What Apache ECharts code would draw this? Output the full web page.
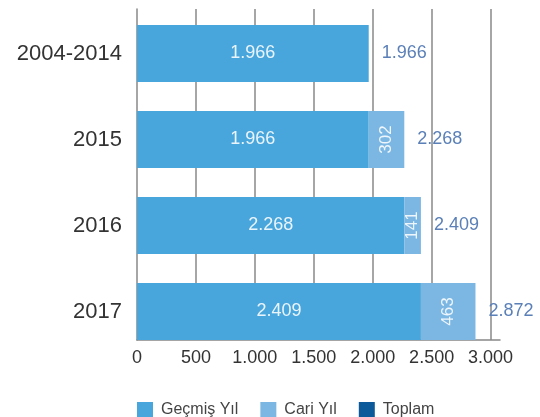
<!DOCTYPE html>
<html>
<head>
<meta charset="utf-8">
<script src="https://cdn.jsdelivr.net/npm/echarts@6/dist/echarts.min.js"></script>
<style>
  html, body { margin: 0; padding: 0; background: #fff; }
  #chart { width: 540px; height: 417px; }
</style>
</head>
<body>
<div id="chart"></div>
<script>
// data
const categories = ['2004-2014', '2015', '2016', '2017']
const gecmisYil = [1966, 1966, 2268, 2409]
const cariYil = [0, 302, 141, 463]
const toplam = [1966, 2268, 2409, 2872]
const xTicks = [0, 500, 1000, 1500, 2000, 2500, 3000]

const font = 'Liberation Sans'
const fmt = v => String(v).replace(/\B(?=(\d{3})+(?!\d))/g, '.')

const chart = echarts.init(document.getElementById('chart'))
const option = {
  backgroundColor: '#fff',
  textStyle: { fontFamily: font },
  animation: false,
  legend: {
    left: 132,
    top: 397,
    itemWidth: 16,
    itemHeight: 16,
    itemGap: 22,
    icon: 'rect',
    textStyle: { fontSize: 16, color: '#444', fontFamily: font, padding: [0, 0, 0, 3] },
    data: [
      { name: 'Geçmiş Yıl' },
      { name: 'Cari Yıl' },
      { name: 'Toplam', itemStyle: { color: '#0c5a9a', opacity: 1 } }
    ]
  },
  grid: [
    // bars
    { left: 137, right: 40, top: 10.5, bottom: 62.5 },
    // frame: split lines + axis
    { left: 137, right: 40, top: 9, bottom: 77 }
  ],
  xAxis: [
    { gridIndex: 0, type: 'value', min: 0, max: 3080, show: false },
    {
      gridIndex: 1,
      type: 'value',
      min: xTicks[0],
      max: 3080,
      interval: 500,
      axisLine: { show: true, lineStyle: { color: '#888', width: 1.5 } },
      axisTick: { show: false },
      axisLabel: {
        fontSize: 18,
        color: '#333',
        margin: 9,
        showMaxLabel: false,
        formatter: v => xTicks.indexOf(v) >= 0 ? fmt(v) : ''
      },
      splitLine: {
        show: true,
        showMinLine: false,
        showMaxLine: false,
        lineStyle: { color: '#888', width: 1.5 }
      }
    }
  ],
  yAxis: [
    {
      gridIndex: 0,
      type: 'category',
      inverse: true,
      data: categories,
      axisLine: { show: false },
      axisTick: { show: false },
      axisLabel: { fontSize: 22, color: '#333', margin: 15 }
    },
    {
      gridIndex: 1,
      type: 'category',
      data: categories,
      axisLine: { show: true, lineStyle: { color: '#888', width: 1.5 } },
      axisTick: { show: false },
      axisLabel: { show: false },
      splitLine: { show: false }
    }
  ],
  series: [
    {
      name: 'Geçmiş Yıl',
      type: 'bar',
      stack: 'yil',
      barWidth: 57,
      xAxisIndex: 0,
      yAxisIndex: 0,
      itemStyle: { color: '#48a6dc' },
      label: {
        show: true,
        position: 'inside',
        fontSize: 18,
        color: '#eaf4fb',
        formatter: p => fmt(p.value)
      },
      data: gecmisYil
    },
    {
      name: 'Cari Yıl',
      type: 'bar',
      stack: 'yil',
      barWidth: 57,
      xAxisIndex: 0,
      yAxisIndex: 0,
      itemStyle: { color: '#7cb7e3' },
      label: {
        show: true,
        position: 'inside',
        rotate: 90,
        fontSize: 17,
        color: '#eef6fc',
        formatter: p => p.value ? fmt(p.value) : ''
      },
      data: cariYil
    },
    {
      name: 'Toplam',
      type: 'bar',
      barWidth: 57,
      barGap: '-100%',
      xAxisIndex: 0,
      yAxisIndex: 0,
      itemStyle: { color: 'rgba(0,0,0,0)' },
      label: {
        show: true,
        position: 'right',
        distance: 13,
        fontSize: 18,
        color: '#5b80b8',
        formatter: p => fmt(p.value)
      },
      z: 1,
      data: toplam
    }
  ]
}
chart.setOption(option)
window.addEventListener('resize', () => chart.resize())
</script>
</body>
</html>
